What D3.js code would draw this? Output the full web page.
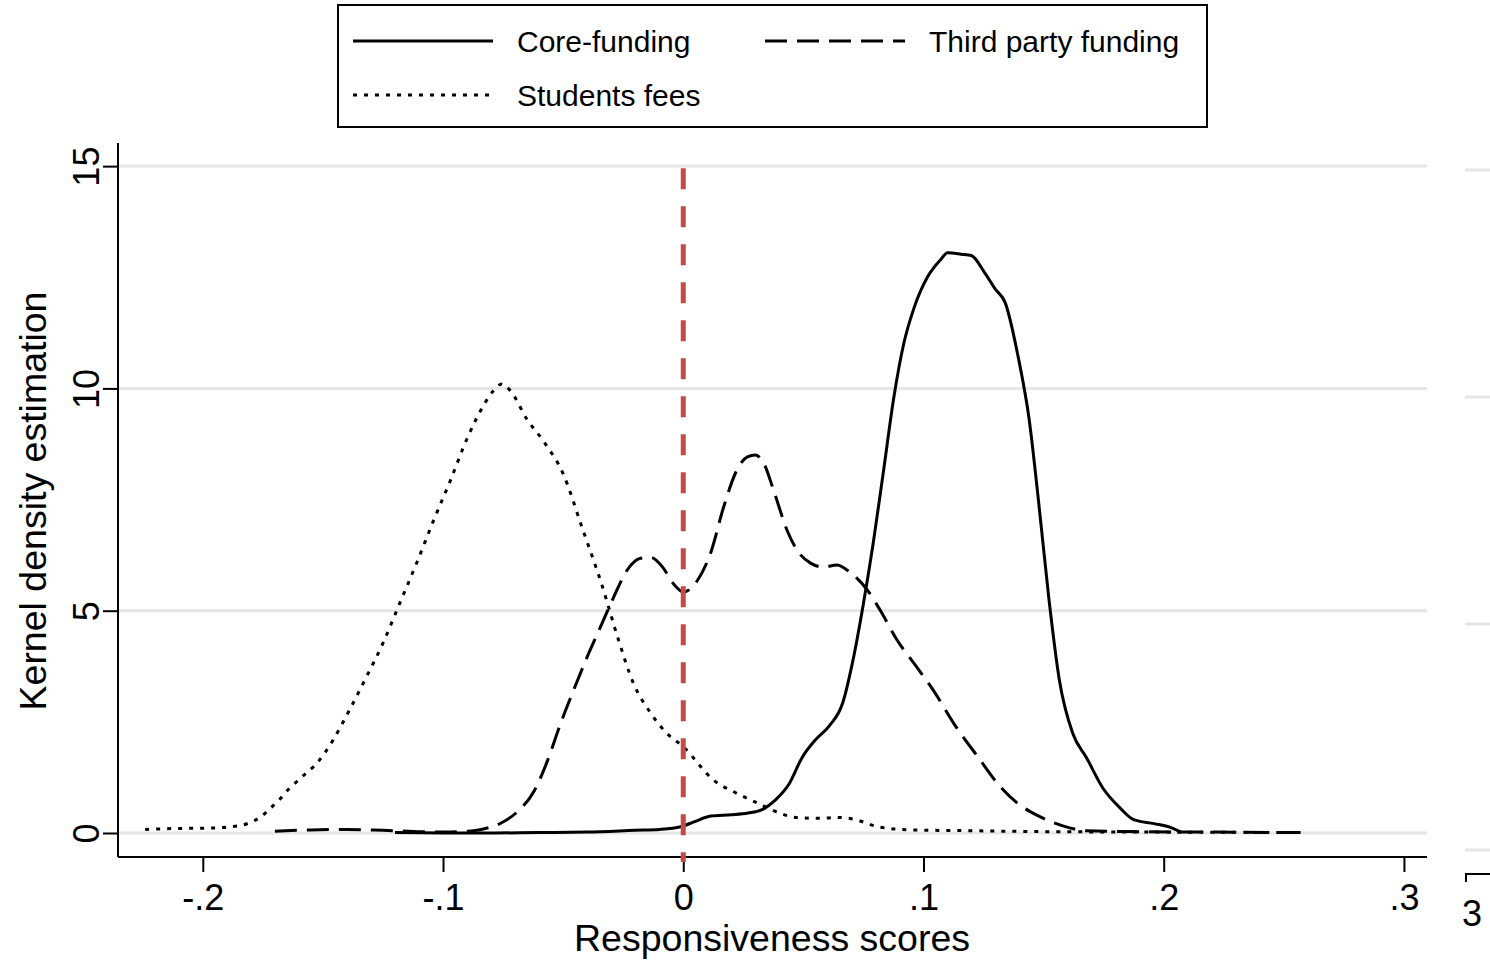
<!DOCTYPE html>
<html>
<head>
<meta charset="utf-8">
<script src="https://cdn.jsdelivr.net/npm/d3@7"></script>
<style>
  html, body { margin: 0; padding: 0; background: #fff; }
  svg { display: block; font-family: "Liberation Sans", Arial, Helvetica, sans-serif; }
</style>
</head>
<body>
<svg id="chart" width="1490" height="961"></svg>
<script>
// Kernel density estimates of responsiveness scores, by funding source
const coreFunding = [
  [-0.120, 0.01], [-0.100, 0.00], [-0.080, 0.00], [-0.060, 0.01], [-0.040, 0.02],
  [-0.020, 0.06], [-0.010, 0.08], [-0.001, 0.14], [0.0045, 0.25], [0.0115, 0.38],
  [0.020, 0.41], [0.027, 0.45], [0.0326, 0.52], [0.0383, 0.74], [0.0439, 1.09],
  [0.0495, 1.70], [0.0551, 2.10], [0.0608, 2.41], [0.0664, 2.93], [0.0707, 3.90],
  [0.0749, 5.13], [0.0791, 6.53], [0.0833, 8.12], [0.0876, 9.78], [0.0918, 11.01],
  [0.096, 11.80], [0.1016, 12.50], [0.1072, 12.90], [0.110, 13.05], [0.1157, 13.02],
  [0.1199, 12.99], [0.1255, 12.60], [0.1298, 12.24], [0.134, 11.93], [0.1396, 10.66],
  [0.1439, 9.34], [0.148, 7.41], [0.1523, 5.22], [0.1565, 3.46], [0.1622, 2.23],
  [0.1678, 1.70], [0.1748, 1.00], [0.1819, 0.56], [0.1875, 0.30], [0.196, 0.21],
  [0.203, 0.12], [0.2072, 0.02]
];

const thirdParty = [
  [-0.170, 0.04], [-0.155, 0.07], [-0.140, 0.08], [-0.125, 0.06], [-0.110, 0.03],
  [-0.100, 0.02], [-0.090, 0.04], [-0.084, 0.08], [-0.076, 0.22], [-0.069, 0.48],
  [-0.062, 0.95], [-0.0567, 1.60], [-0.051, 2.47], [-0.0456, 3.22], [-0.040, 3.96],
  [-0.0345, 4.63], [-0.029, 5.30], [-0.0234, 5.91], [-0.0178, 6.18], [-0.0136, 6.20],
  [-0.0086, 5.98], [-0.004, 5.60], [0.000, 5.42], [0.006, 5.69], [0.0114, 6.30],
  [0.0168, 7.33], [0.0223, 8.16], [0.0267, 8.46], [0.030, 8.50], [0.0335, 8.32],
  [0.0376, 7.71], [0.0432, 6.81], [0.0474, 6.36], [0.053, 6.07], [0.0585, 5.98],
  [0.064, 6.03], [0.0697, 5.85], [0.0767, 5.46], [0.082, 5.01], [0.089, 4.34],
  [0.096, 3.82], [0.104, 3.22], [0.1128, 2.45], [0.1228, 1.70], [0.1312, 1.09],
  [0.1396, 0.65], [0.148, 0.38], [0.158, 0.16], [0.168, 0.05], [0.190, 0.03],
  [0.220, 0.02], [0.258, 0.01]
];

const studentsFees = [
  [-0.224, 0.08], [-0.212, 0.10], [-0.198, 0.11], [-0.188, 0.14], [-0.181, 0.22],
  [-0.176, 0.36], [-0.172, 0.55], [-0.168, 0.76], [-0.164, 1.00], [-0.159, 1.25],
  [-0.152, 1.60], [-0.146, 2.07], [-0.139, 2.76], [-0.132, 3.50], [-0.125, 4.27],
  [-0.118, 5.17], [-0.111, 6.07], [-0.104, 7.02], [-0.097, 7.92], [-0.090, 8.87],
  [-0.083, 9.63], [-0.079, 9.95], [-0.0755, 10.10], [-0.072, 9.95], [-0.065, 9.30],
  [-0.058, 8.80], [-0.050, 8.08], [-0.042, 6.85], [-0.034, 5.60], [-0.027, 4.35],
  [-0.021, 3.40], [-0.0136, 2.70], [-0.007, 2.25], [0.000, 1.94], [0.0126, 1.19],
  [0.022, 0.90], [0.031, 0.67], [0.040, 0.45], [0.048, 0.34], [0.057, 0.33],
  [0.064, 0.35], [0.070, 0.32], [0.082, 0.13], [0.095, 0.07], [0.121, 0.05],
  [0.150, 0.03], [0.200, 0.02], [0.257, 0.01]
];

const seriesNames = ["Core-funding", "Third party funding", "Students fees"];
const xTicks = [-0.2, -0.1, 0, 0.1, 0.2, 0.3];
const xTickLabels = ["-.2", "-.1", "0", ".1", ".2", ".3"];
const yTicks = [0, 5, 10, 15];
const refLineX = 0;

const svg = d3.select("#chart");
const font = '"Liberation Sans", Arial, Helvetica, sans-serif';

// plot frame
const plotLeft = 118, plotRight = 1427, plotTop = 143, plotBottom = 857;
const x = d3.scaleLinear().domain([-0.2353, 0.3096]).range([plotLeft, plotRight]);
const y = d3.scaleLinear().domain([-0.54, 15.52]).range([plotBottom, plotTop]);

// horizontal grid
svg.append("g")
  .selectAll("line")
  .data(yTicks)
  .join("line")
  .attr("x1", plotLeft).attr("x2", plotRight)
  .attr("y1", d => y(d)).attr("y2", d => y(d))
  .attr("stroke", "#e6e6e6").attr("stroke-width", 3);

// y axis
const yAxis = svg.append("g")
  .attr("transform", `translate(${plotLeft},0)`)
  .call(d3.axisLeft(y).tickValues(yTicks).tickSize(15).tickSizeOuter(0).tickFormat(d3.format("d")));
yAxis.select(".domain").attr("stroke", "#000").attr("stroke-width", 2)
  .attr("d", `M0,${plotTop}V${plotBottom}`);
yAxis.selectAll(".tick line").attr("stroke", "#000").attr("stroke-width", 2);
yAxis.selectAll(".tick text")
  .attr("font-family", font).attr("font-size", 36).attr("fill", "#000")
  .attr("x", 0).attr("dy", 0)
  .attr("transform", "translate(-19,0) rotate(-90)")
  .attr("text-anchor", "middle");

// x axis
const xAxis = svg.append("g")
  .attr("transform", `translate(0,${plotBottom})`)
  .call(d3.axisBottom(x).tickValues(xTicks).tickSize(15).tickSizeOuter(0)
    .tickFormat((d, i) => xTickLabels[i]));
xAxis.select(".domain").attr("stroke", "#000").attr("stroke-width", 2)
  .attr("d", `M${plotLeft},0H${plotRight}`);
xAxis.selectAll(".tick line").attr("stroke", "#000").attr("stroke-width", 2);
xAxis.selectAll(".tick text")
  .attr("font-family", font).attr("font-size", 36).attr("fill", "#000")
  .attr("y", 53).attr("dy", 0);

// axis titles
svg.append("text")
  .attr("x", 772).attr("y", 951)
  .attr("text-anchor", "middle")
  .attr("font-family", font).attr("font-size", 37.5)
  .text("Responsiveness scores");
svg.append("text")
  .attr("transform", `translate(46,${501}) rotate(-90)`)
  .attr("text-anchor", "middle")
  .attr("font-family", font).attr("font-size", 37.5)
  .text("Kernel density estimation");

// density curves
const line = d3.line()
  .x(d => x(d[0]))
  .y(d => y(d[1]))
  .curve(d3.curveMonotoneX);

const styles = [
  { data: coreFunding, dash: null },
  { data: thirdParty, dash: "22,10" },
  { data: studentsFees, dash: "4,7" }
];

svg.append("g")
  .selectAll("path")
  .data(styles)
  .join("path")
  .attr("d", d => line(d.data))
  .attr("fill", "none")
  .attr("stroke", "#000")
  .attr("stroke-width", 3)
  .attr("stroke-dasharray", d => d.dash);

// reference line at zero
svg.append("line")
  .attr("x1", x(refLineX)).attr("x2", x(refLineX))
  .attr("y1", y(14.95)).attr("y2", plotBottom + 5)
  .attr("stroke", "#c44a46")
  .attr("stroke-width", 5)
  .attr("stroke-dasharray", "21,17");

// legend
const lg = svg.append("g");
lg.append("rect")
  .attr("x", 338).attr("y", 5).attr("width", 869).attr("height", 122)
  .attr("fill", "#fff").attr("stroke", "#000").attr("stroke-width", 2);
const legendItems = [
  { name: seriesNames[0], dash: null, lx: 353, ly: 41 },
  { name: seriesNames[1], dash: "22,10", lx: 765, ly: 41 },
  { name: seriesNames[2], dash: "4,7", lx: 353, ly: 95 }
];
legendItems.forEach(it => {
  lg.append("line")
    .attr("x1", it.lx).attr("x2", it.lx + 140)
    .attr("y1", it.ly).attr("y2", it.ly)
    .attr("stroke", "#000").attr("stroke-width", 3)
    .attr("stroke-dasharray", it.dash);
  lg.append("text")
    .attr("x", it.lx + 164).attr("y", it.ly + 11)
    .attr("font-family", font).attr("font-size", 30)
    .text(it.name);
});

// right-edge marks
const edge = svg.append("g");
[170, 397, 624, 850].forEach(v => {
  edge.append("line")
    .attr("x1", 1465).attr("x2", 1490)
    .attr("y1", v).attr("y2", v)
    .attr("stroke", "#e6e6e6").attr("stroke-width", 3);
});
edge.append("path")
  .attr("d", "M1466,882V874H1490")
  .attr("fill", "none").attr("stroke", "#000").attr("stroke-width", 2);
edge.append("text")
  .attr("x", 1462).attr("y", 926)
  .attr("font-family", font).attr("font-size", 36)
  .text("3");
</script>
</body>
</html>
